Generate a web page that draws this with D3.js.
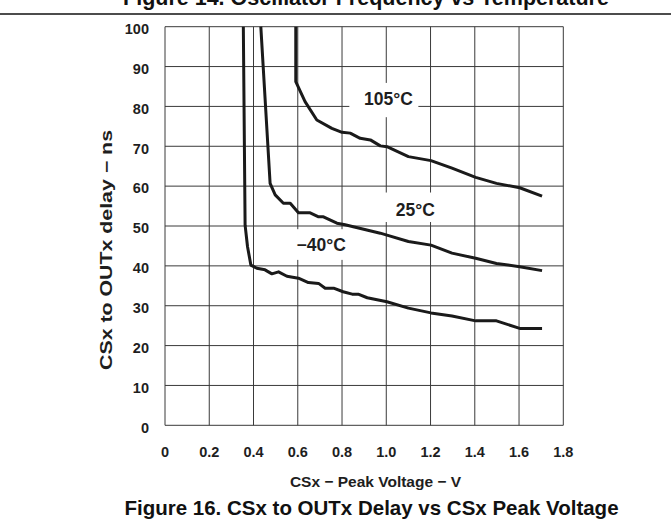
<!DOCTYPE html>
<html>
<head>
<meta charset="utf-8">
<script src="https://cdn.jsdelivr.net/npm/d3@7"></script>
<style>
  html, body { margin: 0; padding: 0; background: #fff; }
  svg { display: block; font-family: "Liberation Sans", Arial, Helvetica, sans-serif; font-weight: bold; }
</style>
</head>
<body>
<svg id="chart" width="671" height="529"></svg>
<script>
// ---- data ----
const xTicks = [0, 0.2, 0.4, 0.6, 0.8, 1.0, 1.2, 1.4, 1.6, 1.8];
const xTickLabels = ["0", "0.2", "0.4", "0.6", "0.8", "1.0", "1.2", "1.4", "1.6", "1.8"];
const yTicks = [0, 10, 20, 30, 40, 50, 60, 70, 80, 90, 100];

const seriesNames = ["-40°C", "25°C", "105°C"];
const seriesLabels = ["\u221240°C", "25°C", "105°C"];

const vMinus40 = [0.354, 0.362, 0.373, 0.388, 0.415, 0.452, 0.483, 0.513, 0.551, 0.603, 0.648, 0.694, 0.724, 0.762, 0.805, 0.846, 0.873, 0.914, 1.003, 1.100, 1.202, 1.297, 1.404, 1.498, 1.603, 1.704];
const dMinus40 = [100, 50.2, 44.8, 40.2, 39.4, 39.0, 38.0, 38.5, 37.4, 36.9, 35.8, 35.6, 34.4, 34.4, 33.5, 32.9, 32.9, 32.0, 31.0, 29.4, 28.2, 27.4, 26.2, 26.2, 24.3, 24.3];

const v25 = [0.433, 0.475, 0.498, 0.535, 0.566, 0.603, 0.656, 0.694, 0.716, 0.777, 0.814, 0.851, 0.973, 1.003, 1.100, 1.202, 1.297, 1.404, 1.498, 1.603, 1.704];
const d25 = [100, 60.7, 57.8, 55.7, 55.7, 53.3, 53.3, 52.3, 52.3, 50.7, 50.3, 49.8, 48.2, 47.7, 46.1, 45.2, 43.2, 41.9, 40.6, 39.8, 38.8];

const v105 = [0.591, 0.591, 0.633, 0.686, 0.754, 0.800, 0.837, 0.882, 0.928, 0.973, 1.003, 1.100, 1.202, 1.297, 1.404, 1.498, 1.603, 1.704];
const d105 = [100, 86.2, 81.2, 76.6, 74.5, 73.5, 73.3, 72.0, 71.6, 70.1, 69.9, 67.4, 66.4, 64.5, 62.2, 60.7, 59.6, 57.5];

const topTitle = "Figure 14. Oscillator Frequency vs Temperature";
const caption = "Figure 16. CSx to OUTx Delay vs CSx Peak Voltage";
const xTitle = "CSx \u2212 Peak Voltage \u2212 V";
const yTitle = "CSx to OUTx delay \u2212 ns";

// ---- layout ----
const W = 671, H = 529;
const plot = { left: 165, right: 563.3, top: 26.7, bottom: 425.3 };
const svg = d3.select("#chart");

const x = d3.scaleLinear().domain([0, 1.8]).range([plot.left, plot.right]);
const y = d3.scaleLinear().domain([0, 100]).range([plot.bottom, plot.top]);

const gridColor = "#3a3a3a";
const textColor = "#1e1e1e";

// top partial title (cut by the page edge, as in the source page) and rule
svg.append("text").attr("x", 366).attr("y", 5).attr("text-anchor", "middle")
  .attr("font-size", 21.5).attr("fill", "#111").text(topTitle);
svg.append("line").attr("x1", 0).attr("x2", W).attr("y1", 14).attr("y2", 14)
  .attr("stroke", "#111").attr("stroke-width", 1.5);

// gridlines
const grid = svg.append("g");
grid.selectAll("line.v").data(xTicks).join("line")
  .attr("x1", d => x(d)).attr("x2", d => x(d))
  .attr("y1", plot.top).attr("y2", plot.bottom)
  .attr("stroke", gridColor).attr("stroke-width", 1);
grid.selectAll("line.h").data(yTicks).join("line")
  .attr("x1", plot.left).attr("x2", plot.right)
  .attr("y1", d => y(d)).attr("y2", d => y(d))
  .attr("stroke", gridColor).attr("stroke-width", 1);

// curves
const line = d3.line().x(d => x(d[0])).y(d => y(d[1]));
const series = [
  d3.zip(vMinus40, dMinus40),
  d3.zip(v25, d25),
  d3.zip(v105, d105)
];
svg.append("g").selectAll("path").data(series).join("path")
  .attr("d", line).attr("fill", "none")
  .attr("stroke", "#1a1a1a").attr("stroke-width", 3)
  .attr("stroke-linejoin", "round");

// series labels with white knock-out boxes (data coordinates)
const labelPos = [
  { cx: 0.706, cy: 45.4, x0: 0.566, x1: 0.837, y0: 41.5, y1: 49.2 },
  { cx: 1.131, cy: 54.0, x0: 0.986, x1: 1.244, y0: 51.0, y1: 58.4 },
  { cx: 1.010, cy: 82.0, x0: 0.833, x1: 1.145, y0: 77.3, y1: 85.9 }
];
const lg = svg.append("g");
labelPos.forEach((p, i) => {
  lg.append("rect").attr("x", x(p.x0)).attr("width", x(p.x1) - x(p.x0))
    .attr("y", y(p.y1)).attr("height", y(p.y0) - y(p.y1)).attr("fill", "#fff");
  lg.append("text").attr("x", x(p.cx)).attr("y", y(p.cy))
    .attr("dy", "0.36em").attr("text-anchor", "middle")
    .attr("font-size", 17.5).attr("fill", textColor).text(seriesLabels[i]);
});

// y tick labels
svg.append("g").selectAll("text").data(yTicks).join("text")
  .attr("x", 149).attr("y", d => y(d) + 2).attr("dy", "0.36em")
  .attr("text-anchor", "end").attr("font-size", 14.5).attr("fill", textColor)
  .text(d => d);

// x tick labels
svg.append("g").selectAll("text").data(xTicks).join("text")
  .attr("x", d => x(d)).attr("y", 452).attr("dy", "0.36em")
  .attr("text-anchor", "middle").attr("font-size", 14.5).attr("fill", textColor)
  .text((d, i) => xTickLabels[i]);

// axis titles
svg.append("text").attr("x", 375.5).attr("y", 481.5).attr("dy", "0.36em")
  .attr("text-anchor", "middle").attr("font-size", 15.5).attr("fill", textColor).text(xTitle);
svg.append("text").attr("transform", "translate(106,250) rotate(-90)")
  .attr("dy", "0.36em").attr("text-anchor", "middle")
  .attr("font-size", 16).attr("textLength", 240).attr("lengthAdjust", "spacingAndGlyphs")
  .attr("fill", textColor).text(yTitle);

// caption
svg.append("text").attr("x", 371.5).attr("y", 508).attr("dy", "0.36em")
  .attr("text-anchor", "middle").attr("font-size", 20.5).attr("fill", "#111").text(caption);
</script>
</body>
</html>
